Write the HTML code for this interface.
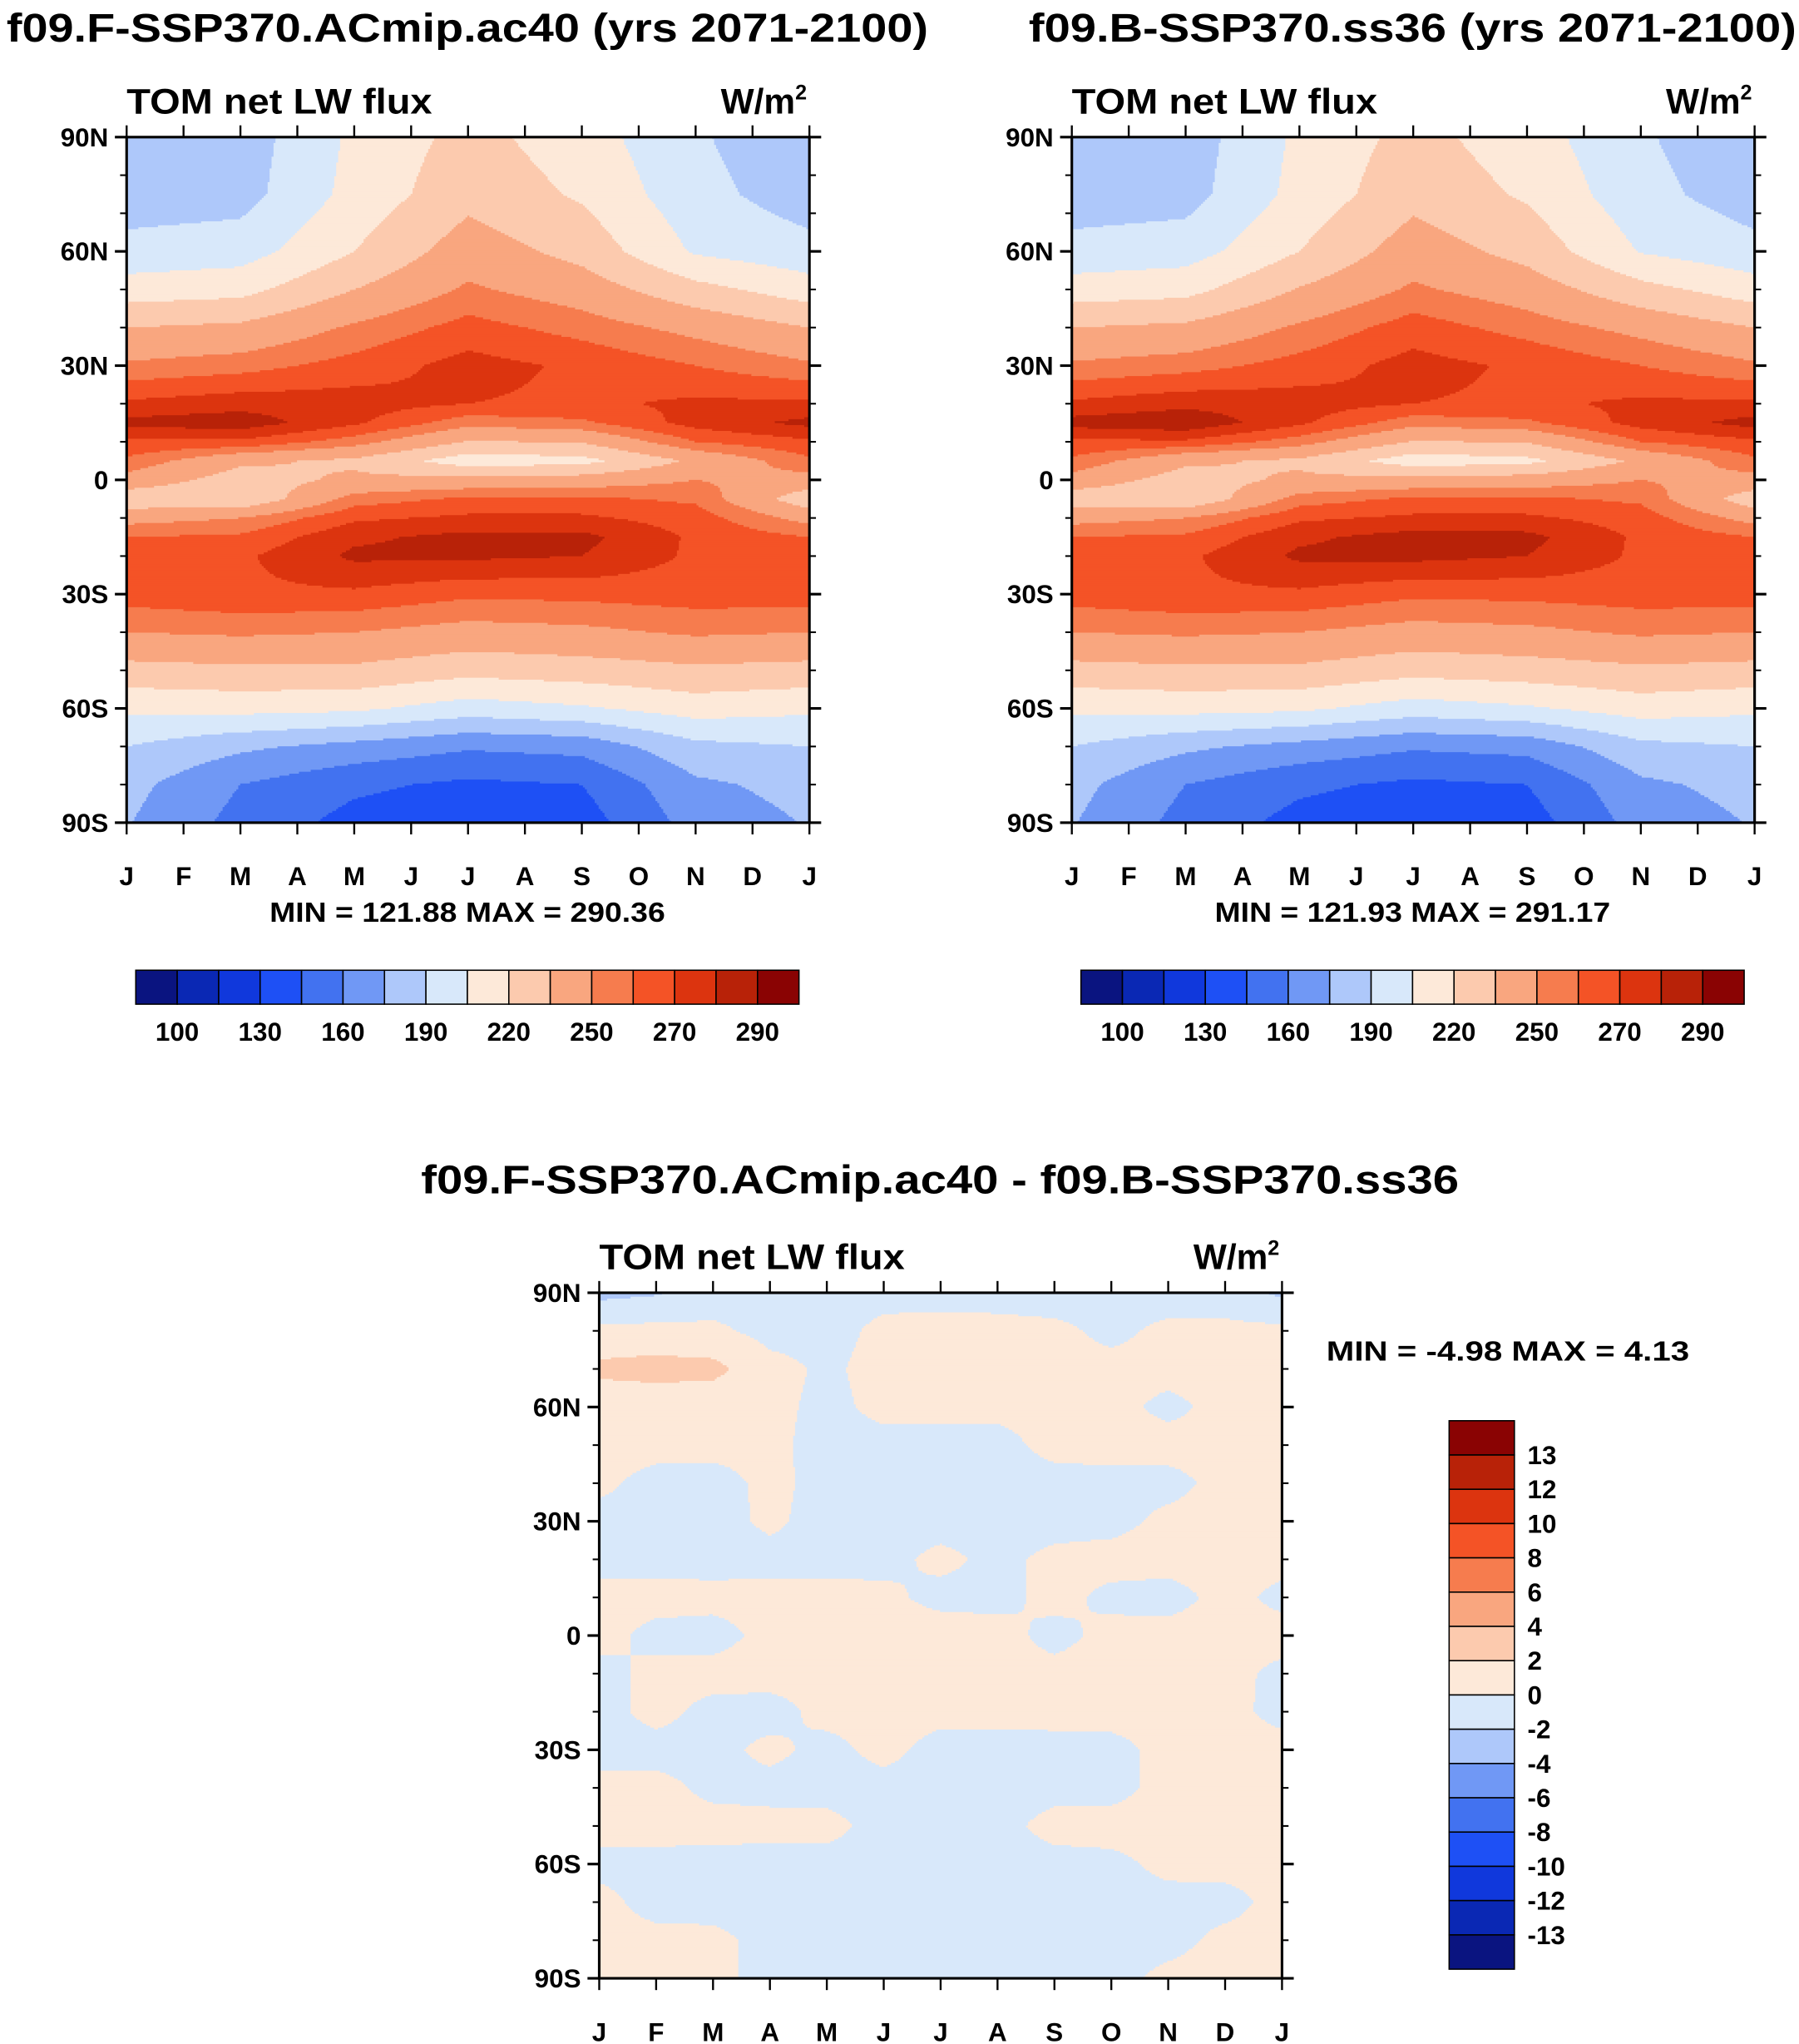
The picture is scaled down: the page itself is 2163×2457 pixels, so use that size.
<!DOCTYPE html>
<html><head><meta charset="utf-8"><style>
html,body{margin:0;padding:0;background:#fff}
svg{display:block}
text{font-family:"Liberation Sans",sans-serif;font-weight:bold;fill:#000}
</style></head><body>
<svg id="root" width="2163" height="2457" viewBox="0 0 1378 1565.3" preserveAspectRatio="none" xmlns="http://www.w3.org/2000/svg">
<rect width="1378" height="1566" fill="#fff"/>
<g id="p1"></g>
<g id="p2"></g>
<g id="p3"></g>
</svg>
<script>
// ---- data ----
const monthLabels = ["J","F","M","A","M","J","J","A","S","O","N","D","J"];
const latTickLabels = ["90N","60N","30N","0","30S","60S","90S"];
const latTickValues = [90,60,30,0,-30,-60,-90];
const topMonths = [0,2,4,6,8,10,12];
const topLats = [90,75,60,50,40,30,20,15,10,5,0,-5,-10,-15,-20,-30,-40,-50,-60,-70,-80,-90];
// columns: Jan, Mar, May, Jul, Sep, Nov, Jan
const gridA = [
 [178,182,208,225,212,192,178],
 [182,184,210,230,218,195,182],
 [195,198,220,243,230,203,195],
 [212,215,235,252,243,225,212],
 [235,238,252,264,256,246,235],
 [252,256,264,274,268,260,252],
 [272,276,275,270,268,272,272],
 [283,286,272,254,258,274,283],
 [268,268,255,234,236,260,268],
 [258,238,232,212,215,238,258],
 [245,228,238,240,242,250,245],
 [225,222,255,262,262,258,225],
 [245,250,268,272,272,265,245],
 [260,262,278,283,283,268,260],
 [265,268,282,282,280,268,265],
 [265,268,268,262,263,265,265],
 [250,252,250,245,247,252,250],
 [230,232,232,225,228,232,230],
 [208,210,208,198,203,212,208],
 [190,178,170,162,165,186,190],
 [180,160,148,142,145,172,180],
 [176,155,140,135,138,166,176]
];
const gridB = [
 [178,182,208,225,212,192,178],
 [182,184,210,230,218,195,182],
 [195,198,220,243,230,204,195],
 [212,215,236,252,243,225,212],
 [235,238,252,265,256,246,235],
 [252,256,264,274,268,260,252],
 [272,277,275,270,268,272,272],
 [284,288,272,254,258,274,284],
 [268,268,255,234,236,260,268],
 [258,238,232,212,216,238,258],
 [245,228,238,240,242,250,245],
 [226,222,255,262,262,258,226],
 [245,250,268,272,272,265,245],
 [260,262,278,284,283,268,260],
 [265,268,282,283,280,268,265],
 [265,268,268,262,263,265,265],
 [250,252,250,245,247,252,250],
 [230,232,232,225,228,232,230],
 [208,210,208,198,203,212,208],
 [190,178,170,162,165,186,190],
 [180,160,148,142,145,172,180],
 [176,155,140,135,138,166,176]
];
const topLevels = [100,115,130,145,160,175,190,205,220,235,250,260,270,280,290];
const topLevelLabels = ["100","130","160","190","220","250","270","290"];
const topColors = ["#0a1480","#0a28b4","#1038dc","#1e50f5","#4272f0","#7098f5","#aec8fa","#d8e8fa","#fde9d9","#fccaae","#f9a67f","#f67c4e","#f45326","#dc340f","#b82208","#8a0303"];

const diffMonths = [0,1,2,3,4,5,6,7,8,9,10,11,12];
const diffLats = [90,80,70,60,50,40,30,20,10,0,-10,-20,-30,-40,-50,-60,-70,-80,-90];
const gridD = [
 [-2.6,-2.2,-1,-1,-0.6,-0.5,-0.5,-0.6,-0.8,-0.8,-0.8,-1,-2.4],
 [ 0.5, 0.6,0.4,-0.6,-0.6,0.4,0.5,0.5,0.4,-0.4,0.4,0.5,0.5],
 [ 2.5, 2.8, 2.6,0.6,-0.3,0.6,0.7,0.6,0.5,0.5,0.5,0.6,0.6],
 [ 0.6, 0.6, 0.6,0.5,-0.5,0.5,0.5,0.4,0.4,0.5,-0.4,0.5,0.6],
 [ 0.6, 0.6, 0.5,0.4,-0.6,-0.6,-0.6,-0.5,0.5,0.6,0.6,0.4,0.5],
 [ 0.4,-0.6,-0.6,0.4,-0.5,-0.6,-0.6,-0.6,-0.6,-0.5,-0.5,0.5,0.5],
 [-0.6,-0.6,-0.6,0.3,-0.6,-0.6,-0.6,-0.7,-0.6,-0.5,0.4,0.6,0.6],
 [-0.6,-0.6,-0.6,-0.5,-0.5,-0.5,0.4,-0.4,0.4,0.6,0.6,0.6,0.5],
 [ 0.6, 0.6, 0.5,0.5,0.5,0.4,-0.5,-0.5,0.5,-0.4,-0.6,0.5,-0.4],
 [ 0.6,-0.5,-0.6,0.5,0.6,0.6,0.9,0.6,-0.5,0.5,0.6,0.6,0.6],
 [-0.6, 0.5, 0.6,0.6,0.5,0.5,0.6,0.5,0.5,0.6,0.6,0.5,-0.4],
 [-0.6, 0.5,-0.5,-0.6,0.5,0.6,0.5,0.5,0.6,0.6,0.5,0.5,-0.5],
 [-0.6,-0.6,-0.5,0.4,-0.5,0.5,-0.6,-0.6,-0.6,-0.5,0.5,0.6,0.6],
 [ 0.5, 0.5,-0.4,-0.5,-0.6,-0.6,-0.6,-0.6,-0.5,-0.5,0.5,0.6,0.6],
 [ 0.6, 0.6, 0.6,0.5,0.5,-0.6,-0.6,-0.5,0.5,0.6,0.6,0.5,0.5],
 [-0.5,-0.5,-0.6,-0.6,-0.6,-0.6,-0.6,-0.6,-0.5,-0.4,0.4,0.5,0.4],
 [ 0.5,-0.6,-0.6,-0.6,-0.6,-0.6,-0.7,-0.6,-0.6,-0.6,-0.5,-0.5,0.5],
 [ 0.5, 0.5, 0.4,-0.5,-0.6,-0.6,-0.6,-0.6,-0.6,-0.6,-0.5,0.4,0.5],
 [ 0.6, 0.6, 0.4,-0.5,-0.6,-0.6,-0.6,-0.6,-0.6,-0.5,0.4,0.6,0.6]
];
const diffLevels = [-13,-12,-10,-8,-6,-4,-2,0,2,4,6,8,10,12,13];
const diffLevelLabels = ["13","12","10","8","6","4","2","0","-2","-4","-6","-8","-10","-12","-13"];

const NS = "http://www.w3.org/2000/svg";
function mk(tag, attrs, parent){const e=document.createElementNS(NS,tag);for(const k in attrs)e.setAttribute(k,attrs[k]);if(parent)parent.appendChild(e);return e;}

function interp(nodes, v){
  const n=nodes.length; const desc=nodes[0]>nodes[n-1];
  for(let i=0;i<n-1;i++){const a=nodes[i],b=nodes[i+1];
    if(desc? (v<=a&&v>=b):(v>=a&&v<=b)){return [i,(v-a)/(b-a)];}}
  return [n-2,1];
}
function sample(grid,months,lats,m,lat){
  const [j,tx]=interp(months,m); const [i,ty]=interp(lats,lat);
  const a=grid[i][j],b=grid[i][j+1],c=grid[i+1][j],d=grid[i+1][j+1];
  return (a*(1-tx)+b*tx)*(1-ty)+(c*(1-tx)+d*tx)*ty;
}
function colorIdx(v,levels){let k=0;while(k<levels.length&&v>=levels[k])k++;return k;}

function drawPanel(g,x0,y0,w,h,grid,months,lats,levels,colors){
  const xOf=m=>x0+m/12*w, yOf=l=>y0+(90-l)/180*h;
  const fill=mk('g',{},g);
  
  
  const cs=1.5;
  const nx=Math.ceil(w/cs), ny=Math.ceil(h/cs);
  for(let r=0;r<ny;r++){
    const yy=y0+r*cs, lat=90-((r+0.5)*cs)/h*180;
    let start=0, cur=-1;
    for(let c=0;c<=nx;c++){
      let k=-1;
      if(c<nx){const m=((c+0.5)*cs)/w*12; k=colorIdx(sample(grid,months,lats,Math.min(12,m),Math.max(-90,lat)),levels);}
      if(k!==cur){
        if(cur>=0){const x1=x0+start*cs, x2=Math.min(x0+w,x0+c*cs);
          mk('rect',{x:x1,y:yy,width:x2-x1+0.3,height:Math.min(cs+0.3,y0+h-yy),fill:colors[cur]},fill);}
        cur=k;start=c;
      }
    }
  }
  mk('rect',{x:x0,y:y0,width:w,height:h,fill:'none',stroke:'#000','stroke-width':2},g);
  for(let l=90;l>=-90;l-=10){const major=l%30===0;const len=major?9:5;const y=yOf(l);
    mk('line',{x1:x0-len,y1:y,x2:x0,y2:y,stroke:'#000','stroke-width':major?2:1.3},g);
    mk('line',{x1:x0+w,y1:y,x2:x0+w+len,y2:y,stroke:'#000','stroke-width':major?2:1.3},g);}
  latTickValues.forEach((l,i)=>{const t=mk('text',{x:x0-14,y:yOf(l)+7,'text-anchor':'end','font-size':20},g);t.textContent=latTickLabels[i];
    });
  monthLabels.forEach((ml,i)=>{const x=xOf(i);
    mk('line',{x1:x,y1:y0+h,x2:x,y2:y0+h+9,stroke:'#000','stroke-width':1.5},g);
    mk('line',{x1:x,y1:y0-9,x2:x,y2:y0,stroke:'#000','stroke-width':1.5},g);
    const t=mk('text',{x:x,y:y0+h+48,'text-anchor':'middle','font-size':20},g);t.textContent=ml;
    });
  const a=mk('text',{x:x0,y:y0-18,'font-size':27,textLength:234,lengthAdjust:'spacingAndGlyphs'},g);a.textContent='TOM net LW flux';
  
  const u=mk('text',{x:x0+w-2,y:y0-18,'text-anchor':'end','font-size':27},g);
  u.innerHTML='W/m<tspan font-size="16" dy="-11">2</tspan>';
  
}
function hColorbar(g,x0,y0,w,h,colors,labels){
  const bw=w/colors.length;
  colors.forEach((c,i)=>{const r=mk('rect',{x:x0+i*bw,y:y0,width:bw,height:h,fill:c,stroke:'#000','stroke-width':1},g);
    });
  labels.forEach((l,i)=>{const t=mk('text',{x:x0+(2*i+1)*bw,y:y0+h+28,'text-anchor':'middle','font-size':20},g);t.textContent=l;
    });
}
function title(g,x,y,s,size,len){const t=mk('text',{x:x,y:y,'text-anchor':'middle','font-size':size},g);t.textContent=s;
  if(len){t.setAttribute('textLength',len);t.setAttribute('lengthAdjust','spacingAndGlyphs');}
  return t;}

const p1=document.getElementById('p1'),p2=document.getElementById('p2'),p3=document.getElementById('p3');
title(p1,358,32,'f09.F-SSP370.ACmip.ac40 (yrs 2071-2100)',31,706);
drawPanel(p1,97,105,523,525,gridA,topMonths,topLats,topLevels,topColors);
let s=title(p1,358,706,'MIN = 121.88 MAX = 290.36',21,303);
hColorbar(p1,104,743,508,26,topColors,topLevelLabels);

title(p2,1082,32,'f09.B-SSP370.ss36 (yrs 2071-2100)',31,588);
drawPanel(p2,821,105,523,525,gridB,topMonths,topLats,topLevels,topColors);
s=title(p2,1082,706,'MIN = 121.93 MAX = 291.17',21,303);
hColorbar(p2,828,743,508,26,topColors,topLevelLabels);

title(p3,720,914,'f09.F-SSP370.ACmip.ac40 - f09.B-SSP370.ss36',31,795);
drawPanel(p3,459,990,523,525,gridD,diffMonths,diffLats,diffLevels,topColors);
s=mk('text',{x:1016,y:1042,'font-size':21,'xml:space':'preserve',textLength:278,lengthAdjust:'spacingAndGlyphs'},p3);s.textContent='MIN =  -4.98 MAX =   4.13';

(function(){const x0=1110,y0=1088,w=50,bh=420/16;
  for(let i=0;i<16;i++){const r=mk('rect',{x:x0,y:y0+i*bh,width:w,height:bh,fill:topColors[15-i],stroke:'#000','stroke-width':1},p3);
    }
  diffLevelLabels.forEach((l,i)=>{const t=mk('text',{x:1170,y:y0+(i+1)*bh+7,'font-size':20},p3);t.textContent=l;
    });
})();
</script>
</body></html>
